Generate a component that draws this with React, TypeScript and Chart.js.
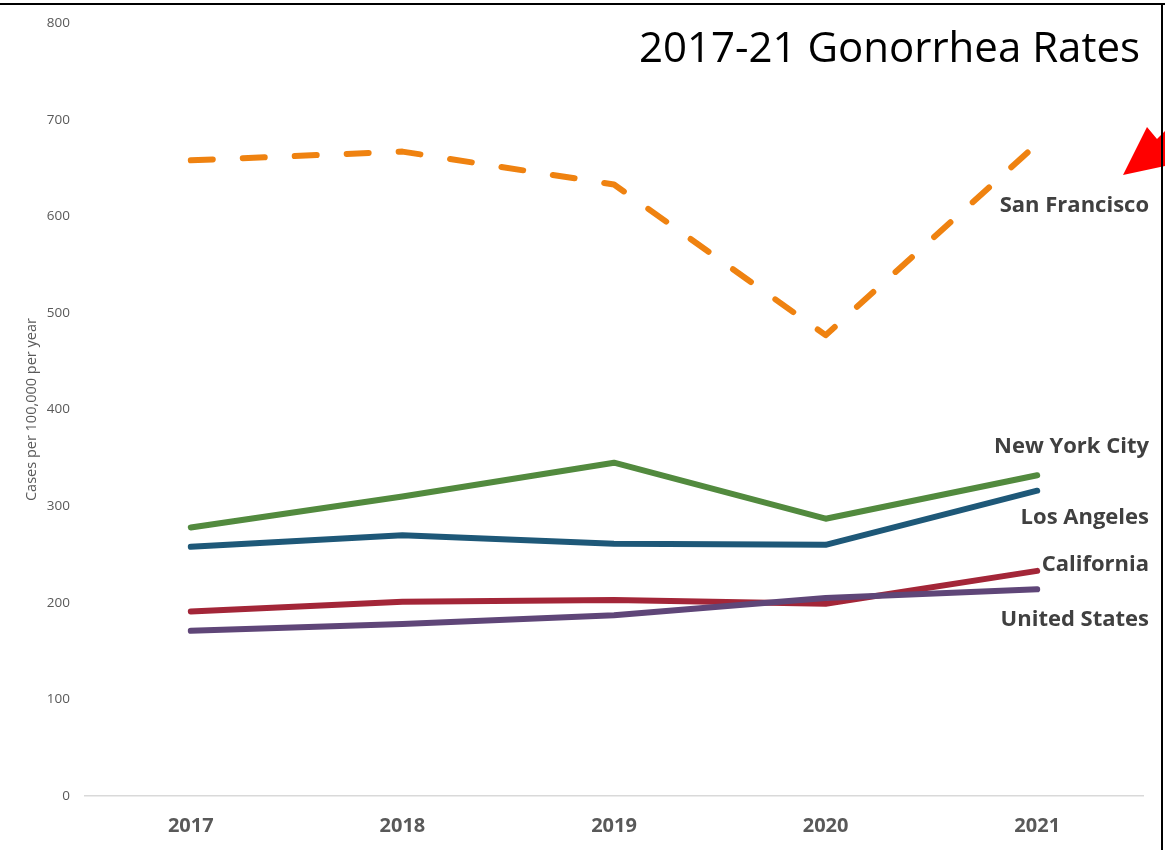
import React, { useEffect, useRef } from "react";
import { Chart, registerables } from "chart.js";

Chart.register(...registerables);

const years = ["2017", "2018", "2019", "2020", "2021"];
const sanFrancisco = [658, 667, 633, 477, 675];
const newYorkCity = [278, 310, 345, 287, 332];
const losAngeles = [258, 270, 261, 260, 316];
const california = [191, 201, 203, 199, 233];
const unitedStates = [171, 178, 187, 205, 214];

const seriesLabels = ["San Francisco", "New York City", "Los Angeles", "California", "United States"];
const seriesLabelValues = [611, 362, 288, 239, 182];

const titleText = "2017-21 Gonorrhea Rates";
const yTitle = "Cases per 100,000 per year";

const FONT = "'Open Sans', 'DejaVu Sans', sans-serif";

const overlayPlugin = {
  id: "overlay",
  afterDraw(chart: any) {
    const ctx = chart.ctx;
    const yScale = chart.scales.y;
    const area = chart.chartArea;
    ctx.save();
    // title
    ctx.fillStyle = "#000000";
    ctx.font = `400 42px ${FONT}`;
    ctx.textAlign = "right";
    ctx.textBaseline = "alphabetic";
    ctx.fillText(titleText, 1140, 62);
    // series labels
    ctx.fillStyle = "#404040";
    ctx.font = `700 22px ${FONT}`;
    ctx.textBaseline = "middle";
    seriesLabels.forEach((t, i) => {
      ctx.fillText(t, area.right + 6, yScale.getPixelForValue(seriesLabelValues[i]));
    });
    // red arrow
    ctx.fillStyle = "#FF0000";
    ctx.beginPath();
    ctx.moveTo(1123, 175);
    ctx.lineTo(1147, 127);
    ctx.lineTo(1157, 139);
    ctx.lineTo(1165, 131);
    ctx.lineTo(1165, 166);
    ctx.closePath();
    ctx.fill();
    // frame
    ctx.strokeStyle = "#000000";
    ctx.lineWidth = 2;
    ctx.beginPath();
    ctx.moveTo(0, 4);
    ctx.lineTo(1165, 4);
    ctx.moveTo(1162, 3);
    ctx.lineTo(1162, 850);
    ctx.stroke();
    ctx.restore();
  },
};

export default function App() {
  const ref = useRef<HTMLCanvasElement | null>(null);
  useEffect(() => {
    if (!ref.current) return;
    const common = {
      borderWidth: 6,
      borderCapStyle: "round" as const,
      borderJoinStyle: "round" as const,
      pointRadius: 0,
      tension: 0,
      fill: false,
    };
    const chart = new Chart(ref.current, {
      type: "line",
      data: {
        labels: years,
        datasets: [
          { label: "San Francisco", data: sanFrancisco, borderColor: "#EF8210", borderDash: [22, 30], ...common },
          { label: "New York City", data: newYorkCity, borderColor: "#528A3E", ...common },
          { label: "Los Angeles", data: losAngeles, borderColor: "#1E5878", ...common },
          { label: "United States", data: unitedStates, borderColor: "#5F4678", ...common },
          { label: "California", data: california, borderColor: "#A32638", ...common },
        ],
      },
      options: {
        animation: false,
        responsive: false,
        maintainAspectRatio: false,
        layout: { padding: { top: 22, right: 22, left: 0, bottom: 0 } },
        plugins: {
          legend: { display: false },
          tooltip: { enabled: false },
        },
        scales: {
          x: {
            offset: true,
            grid: { display: false, drawTicks: false },
            border: { display: true, color: "#D9D9D9", width: 1.5 },
            ticks: {
              color: "#595959",
              font: { family: FONT, size: 20, weight: "bold" },
              padding: 18,
            },
            afterFit(scale: any) {
              scale.height = 54;
            },
          },
          y: {
            min: 0,
            max: 800,
            grid: { display: false, drawTicks: false },
            border: { display: false },
            ticks: {
              stepSize: 100,
              color: "#595959",
              font: { family: FONT, size: 13.5 },
              padding: 15,
            },
            title: {
              display: true,
              text: yTitle,
              color: "#595959",
              font: { family: FONT, size: 14.5 },
              padding: { top: 23, bottom: 0 },
            },
            afterFit(scale: any) {
              scale.width = 85;
            },
          },
        },
      },
      plugins: [overlayPlugin],
    });
    return () => chart.destroy();
  }, []);
  return (
    <div style={{ position: "fixed", left: 0, top: 0, width: 1165, height: 850, background: "#ffffff" }}>
      <canvas ref={ref} width={1165} height={850} style={{ width: 1165, height: 850, display: "block" }} />
    </div>
  );
}
